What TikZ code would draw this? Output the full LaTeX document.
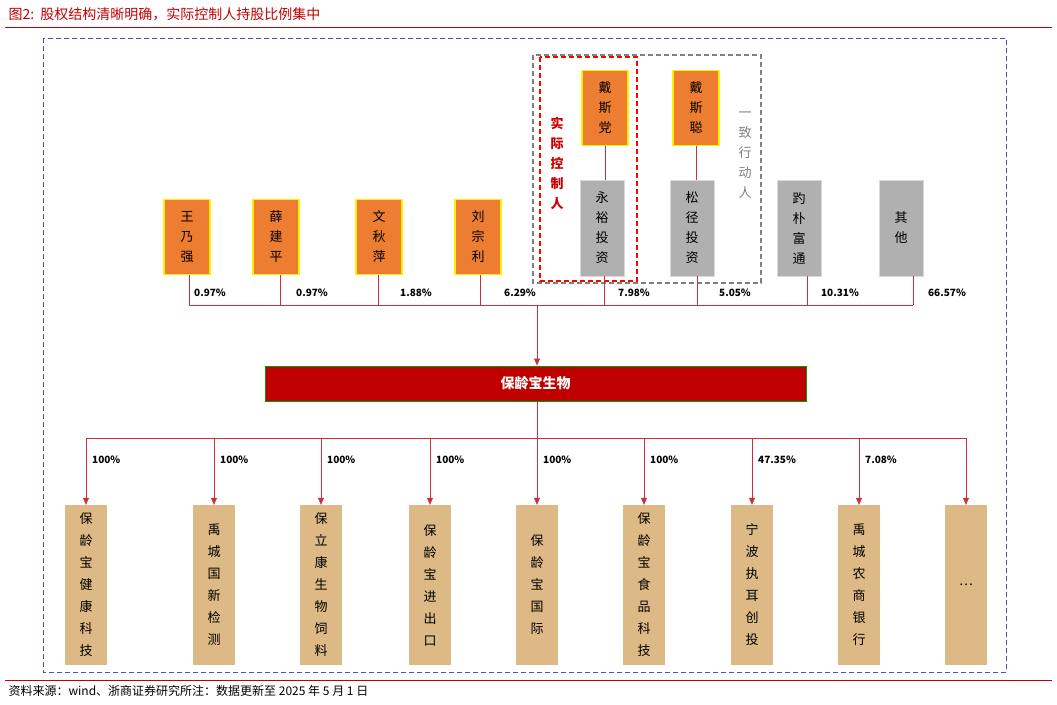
\documentclass[tikz,border=0pt]{standalone}
\usepackage{fontspec}
\setmainfont{Noto Sans CJK SC}
\usetikzlibrary{arrows.meta}
\definecolor{org}{HTML}{ED7D31}
\definecolor{gry}{HTML}{B0B0B0}
\definecolor{tan}{HTML}{DDB985}
\definecolor{dred}{HTML}{C00000}
\definecolor{lred}{HTML}{C8323C}
\begin{document}
\begin{tikzpicture}[x=1pt,y=-1pt,
 vt/.style={align=center,font=\fontsize{13}{20}\selectfont,inner sep=0pt},
 own/.style={vt,fill=org,draw=yellow,line width=1.5pt,minimum width=46pt,minimum height=75pt},
 co/.style={vt,fill=gry,draw=gray!30,minimum width=44pt,minimum height=96pt},
 sub/.style={vt,fill=tan,minimum width=42pt,minimum height=160pt,font=\fontsize{13}{22}\selectfont},
 ln/.style={draw=lred,line width=0.6pt},
 pct/.style={font=\fontsize{10}{12}\selectfont\bfseries,inner sep=0pt},
 arr/.style={ln,-{Triangle[length=7pt,width=6pt]}}]
\useasboundingbox (0,0) rectangle (1057,704);
\node[anchor=west,text=dred,font=\fontsize{14}{16}\selectfont] (title) at (5,14) {图2:\ \ 股权结构清晰明确，实际控制人持股比例集中};
\draw[dred,line width=0.8pt] (5,27) -- (1052,27);
\draw[dred,line width=0.8pt] (5,680) -- (1052,680);
\node[anchor=west,font=\fontsize{12}{14}\selectfont] (src) at (5,691) {资料来源：wind、浙商证券研究所注：数据更新至 2025 年 5 月 1 日};
\draw[blue!60!black!70,dashed,line width=1pt,dash pattern=on 5pt off 3pt] (43,38) rectangle (1006,672);
\draw[gray,dashed,line width=1.2pt,dash pattern=on 5pt off 3pt] (533,55) rectangle (761,283);
\draw[red,dashed,line width=1.3pt,dash pattern=on 5pt off 3pt] (540,57) rectangle (637,281);
\node[vt,text=red!80!black,font=\fontsize{13}{20}\selectfont\bfseries] (sk) at (557,163) {实\\际\\控\\制\\人};
\node[vt,text=gray] (yz) at (745,155) {一\\致\\行\\动\\人};
% owners
\node[own] (a1) at (187,237) {王\\乃\\强};
\node[own] (a2) at (276,237) {薛\\建\\平};
\node[own] (a3) at (379,237) {文\\秋\\萍};
\node[own] (a4) at (478,237) {刘\\宗\\利};
\node[own] (d1) at (605,108) {戴\\斯\\党};
\node[own] (d2) at (696,108) {戴\\斯\\聪};
\node[co] (b1) at (602,228) {永\\裕\\投\\资};
\node[co] (b2) at (692,228) {松\\径\\投\\资};
\node[co] (b3) at (799,228) {趵\\朴\\富\\通};
\node[co] (b4) at (901,228) {其\\他};
\draw[ln] (d1) -- (d1|-b1.north);
\draw[ln] (d2) -- (d2|-b2.north);
\coordinate (bl) at (189,305);
\coordinate (br) at (913,305);
\foreach \n/\x in {a1/189,a2/280,a3/378,a4/480,b1/604,b2/697,b3/807,b4/913}
  \draw[ln] (\n.south -| \x,0) -- (\x,305);
\draw[ln] (bl) -- (br);
\foreach \x/\t in {210/0.97\%,312/0.97\%,416/1.88\%,520/6.29\%,634/7.98\%,735/5.05\%,840/10.31\%,947/66.57\%}
  \node[pct] at (\x,293) {\t};
\node[fill=dred,draw=green!60!black,line width=1pt,minimum width=541pt,minimum height=35pt,inner sep=0pt,text=white,font=\fontsize{14}{16}\selectfont\bfseries] (blb) at (535.5,383.5) {保龄宝生物};
\coordinate (top) at (537,305);
\draw[arr] (top) -- (top|-blb.north);
% subsidiaries
\node[sub] (s1) at (86,585) {保\\龄\\宝\\健\\康\\科\\技};
\node[sub] (s2) at (214,585) {禹\\城\\国\\新\\检\\测};
\node[sub] (s3) at (321,585) {保\\立\\康\\生\\物\\饲\\料};
\node[sub] (s4) at (430,585) {保\\龄\\宝\\进\\出\\口};
\node[sub] (s5) at (537,585) {保\\龄\\宝\\国\\际};
\node[sub] (s6) at (644,585) {保\\龄\\宝\\食\\品\\科\\技};
\node[sub] (s7) at (752,585) {宁\\波\\执\\耳\\创\\投};
\node[sub] (s8) at (859,585) {禹\\城\\农\\商\\银\\行};
\node[sub] (s9) at (966,585) {…};
\coordinate (bus) at (537,438);
\draw[ln] (blb.south -| bus) -- (bus);
\draw[ln] (86,438) -- (966,438);
\foreach \s/\p in {s1/100\%,s2/100\%,s3/100\%,s4/100\%,s5/100\%,s6/100\%,s7/47.35\%,s8/7.08\%,s9/} {
  \draw[arr] (\s.north |- bus) -- (\s.north);
  \node[pct,anchor=west] at ([xshift=6pt]\s.north |- 0,460) {\p};
}
\end{tikzpicture}
\end{document}
